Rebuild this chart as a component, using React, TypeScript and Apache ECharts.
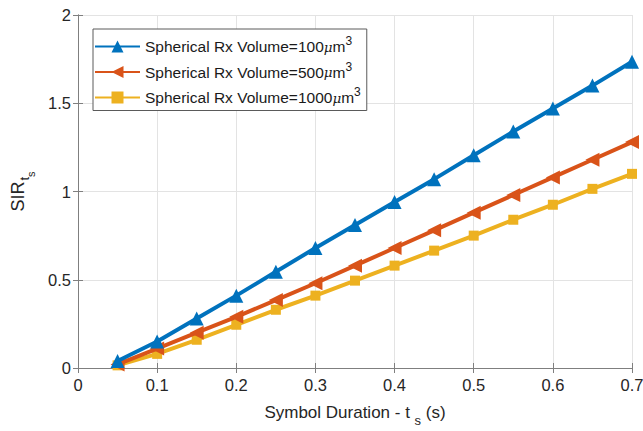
import React, { useEffect, useRef } from "react";
import * as echarts from "echarts";

const xValues = [0.05, 0.1, 0.15, 0.2, 0.25, 0.3, 0.35, 0.4, 0.45, 0.5, 0.55, 0.6, 0.65, 0.7];
const vol100 = [0.04, 0.15, 0.28, 0.41, 0.545, 0.68, 0.81, 0.94, 1.07, 1.205, 1.34, 1.47, 1.6, 1.735];
const vol500 = [0.02, 0.11, 0.2, 0.29, 0.385, 0.48, 0.58, 0.68, 0.78, 0.88, 0.98, 1.08, 1.18, 1.28];
const vol1000 = [0.015, 0.08, 0.16, 0.245, 0.33, 0.41, 0.495, 0.58, 0.665, 0.75, 0.84, 0.925, 1.015, 1.1];
const seriesNames = [
  "Spherical Rx Volume=100μm3",
  "Spherical Rx Volume=500μm3",
  "Spherical Rx Volume=1000μm3",
];
const colors = ["#0072BD", "#D95319", "#EDB120"];

const FONT = "Liberation Sans, Arial, Helvetica, sans-serif";

export default function App() {
  const ref = useRef<HTMLDivElement>(null);
  useEffect(() => {
    if (!ref.current) return;
    const chart = echarts.init(ref.current, null, { renderer: "svg" });
    const mk = (vals: number[]) => xValues.map((x, i) => [x, vals[i]]);
    const axisLine = { show: true, lineStyle: { color: "#7f7f7f", width: 1 } };
    chart.setOption({
      animation: false,
      backgroundColor: "#ffffff",
      textStyle: { fontFamily: FONT },
      grid: { left: 78, right: 11, top: 15, bottom: 63, containLabel: false, outerBoundsMode: "none" },
      legend: {
        left: 93,
        top: 29,
        orient: "vertical",
        backgroundColor: "#ffffff",
        borderColor: "#5a5a5a",
        borderWidth: 1,
        borderRadius: 0,
        padding: [6, 6, 5, 1],
        itemGap: 6,
        itemWidth: 45,
        itemHeight: 15,
        formatter: (name: string) => {
          const m = name.match(/=(\d+)μm3/);
          const num = m ? m[1] : "";
          return "Spherical Rx Volume=" + num + "{mu|μ}m{sup|3}";
        },
        textStyle: {
          fontFamily: FONT,
          fontSize: 15.5,
          color: "#1a1a1a",
          rich: {
            mu: { fontFamily: "DejaVu Serif, serif", fontStyle: "italic", fontSize: 13.5, color: "#1a1a1a" },
            sup: { fontSize: 12, color: "#1a1a1a", padding: [0, 0, 11, 0] },
          },
        },
        data: seriesNames,
      },
      xAxis: [
        {
          type: "value",
          min: 0,
          max: 0.7,
          interval: 0.1,
          name: "Symbol Duration - t {sub|s} (s)",
          nameLocation: "middle",
          nameGap: 30,
          nameTextStyle: {
            fontFamily: FONT,
            fontSize: 17,
            color: "#262626",
            rich: { sub: { fontSize: 13, color: "#262626", padding: [16, 0, 0, 0] } },
          },
          axisLine,
          axisTick: { show: true, inside: true, length: 5, lineStyle: { color: "#7f7f7f" } },
          axisLabel: { fontSize: 16.5, color: "#262626", margin: 8, fontFamily: FONT },
          splitLine: { show: true, lineStyle: { color: "#e3e3e3", width: 1 } },
        },
        {
          type: "value",
          position: "top",
          min: 0,
          max: 0.7,
          interval: 0.1,
          axisLine,
          axisTick: { show: true, inside: true, length: 5, lineStyle: { color: "#7f7f7f" } },
          axisLabel: { show: false },
          splitLine: { show: false },
        },
      ],
      yAxis: [
        {
          type: "value",
          min: 0,
          max: 2,
          interval: 0.5,
          name: "SIR{sub|t}{subsub|s}",
          nameLocation: "middle",
          nameRotate: 90,
          nameGap: 42,
          nameTextStyle: {
            fontFamily: FONT,
            fontSize: 18,
            color: "#262626",
            rich: {
              sub: { fontSize: 13, color: "#262626", padding: [14, 0, 0, 1] },
              subsub: { fontSize: 11, color: "#262626", padding: [26, 0, 0, 0] },
            },
          },
          axisLine,
          axisTick: { show: true, inside: true, length: 5, lineStyle: { color: "#7f7f7f" } },
          axisLabel: { fontSize: 16.5, color: "#262626", margin: 7, fontFamily: FONT },
          splitLine: { show: true, lineStyle: { color: "#e3e3e3", width: 1 } },
        },
        {
          type: "value",
          position: "right",
          min: 0,
          max: 2,
          interval: 0.5,
          axisLine,
          axisTick: { show: true, inside: true, length: 5, lineStyle: { color: "#7f7f7f" } },
          axisLabel: { show: false },
          splitLine: { show: false },
        },
      ],
      series: [
        {
          name: seriesNames[0],
          type: "line",
          data: mk(vol100),
          color: colors[0],
          lineStyle: { width: 4, color: colors[0] },
          symbol: "triangle",
          symbolSize: 14,
          itemStyle: { color: colors[0] },
          z: 3,
        },
        {
          name: seriesNames[1],
          type: "line",
          data: mk(vol500),
          color: colors[1],
          lineStyle: { width: 4, color: colors[1] },
          symbol: "triangle",
          symbolRotate: 90,
          symbolSize: 14,
          itemStyle: { color: colors[1] },
          z: 2,
        },
        {
          name: seriesNames[2],
          type: "line",
          data: mk(vol1000),
          color: colors[2],
          lineStyle: { width: 4, color: colors[2] },
          symbol: "rect",
          symbolSize: 10,
          itemStyle: { color: colors[2] },
          z: 1,
        },
      ],
    });
    return () => chart.dispose();
  }, []);
  return <div ref={ref} style={{ width: 643, height: 431, position: "absolute", left: 0, top: 0 }} />;
}
